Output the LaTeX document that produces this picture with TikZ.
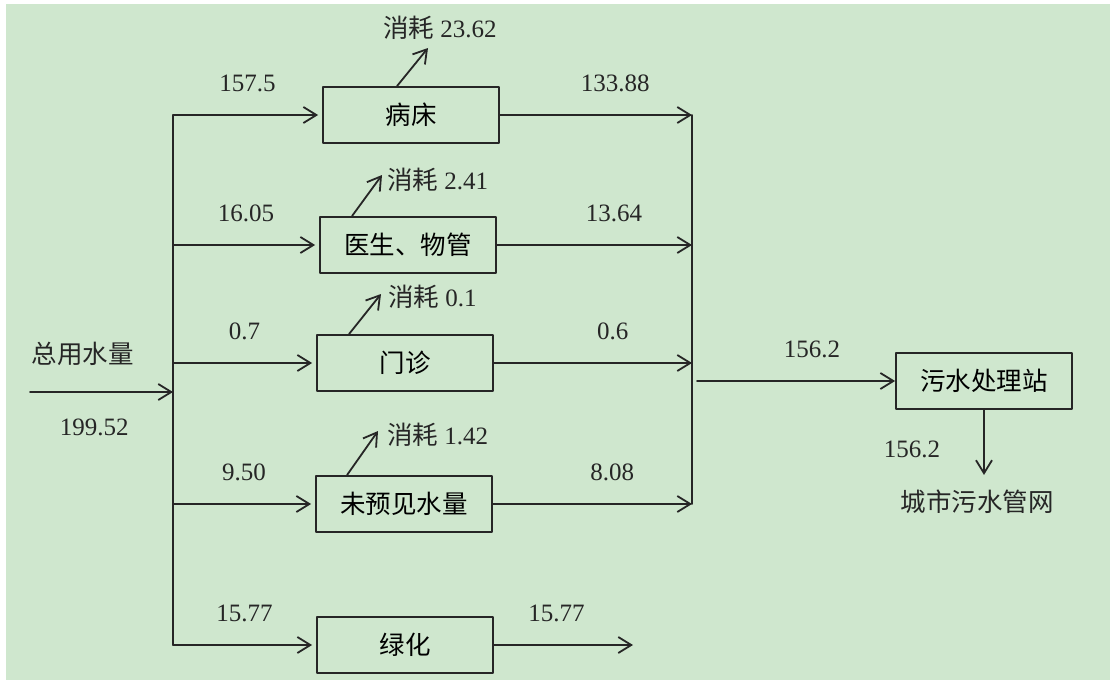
\documentclass[tikz,border=0pt]{standalone}
\usepackage{fontspec}
\setmainfont{Liberation Serif}
\newfontfamily\cjk{Noto Sans CJK SC}
\usetikzlibrary{arrows.meta}
\definecolor{bggreen}{RGB}{207,231,206}
\definecolor{ink}{RGB}{38,38,38}
\newcommand\hao[1]{{\cjk\fontsize{25.5}{28}\selectfont 消耗} #1}
\tikzset{
  unit/.style={draw=ink, line width=1.8pt, minimum width=176pt, minimum height=56pt, inner sep=0pt, font=\cjk\fontsize{25.5}{28}\selectfont},
  num/.style={font=\fontsize{25}{27}\selectfont, inner sep=3pt, text=ink},
  cjklbl/.style={font=\cjk\fontsize{25.5}{28}\selectfont, inner sep=2pt, text=ink},
  flow/.style={draw=ink, line width=1.8pt, ->},
  pipe/.style={draw=ink, line width=1.8pt}
}
\begin{document}
\begin{tikzpicture}[x=1pt, y=-1pt, line cap=round, line join=round, >={Straight Barb[length=13pt,width=16pt,line width=1.8pt]}]
\useasboundingbox (0,0) rectangle (1110,682);
\fill[bggreen] (6,4) rectangle (1110,680);
% units
\node[unit] (bed) at (411,115) {病床};
\node[unit] (doc) at (408,245) {医生、物管};
\node[unit] (clinic) at (405,363) {门诊};
\node[unit] (unseen) at (404,504) {未预见水量};
\node[unit] (lawn) at (405,645) {绿化};
\node[unit] (plant) at (984,381) {污水处理站};
\node[cjklbl] (net) at (977,502) {城市污水管网};
\coordinate (in) at (30,392);
\coordinate (trunk) at (173,392);
\coordinate (col) at (692,113);
\coordinate (out) at (697,381);
\coordinate (drain) at (633,645);
% supply side
\draw[flow] (in) -- node[cjklbl, pos=0.37, above=23pt]{总用水量} node[num, pos=0.45, below=23pt]{199.52} (trunk);
\draw[pipe] (bed.west -| trunk) -- (lawn.west -| trunk);
\foreach \n/\v in {bed/157.5, doc/16.05, clinic/0.7, unseen/9.50, lawn/15.77}
  \draw[flow, shorten >=4pt] (\n.west -| trunk) -- node[num, above=19pt]{\v} (\n.west);
% losses
\node[num, anchor=west, inner sep=0pt] (c1) at (383,28) {\hao{23.62}};
\node[num, anchor=west, inner sep=0pt] (c2) at (387,180) {\hao{2.41}};
\node[num, anchor=west, inner sep=0pt] (c3) at (388,297) {\hao{0.1}};
\node[num, anchor=west, inner sep=0pt] (c4) at (387,435) {\hao{1.42}};
\coordinate (t1) at (428,48);
\coordinate (t2) at (382,175);
\coordinate (t3) at (381,294);
\coordinate (t4) at (378,431);
\draw[flow] ([xshift=-14pt]bed.north) -- (t1);
\draw[flow] ([xshift=-56pt]doc.north) -- (t2);
\draw[flow] ([xshift=-56pt]clinic.north) -- (t3);
\draw[flow] ([xshift=-57pt]unseen.north) -- (t4);
% drain side
\foreach \n/\v in {bed/133.88, doc/13.64, clinic/0.6, unseen/8.08}
  \draw[flow] (\n.east) -- node[num, pos=0.6, above=19pt]{\v} (\n.east -| col);
\draw[pipe] (bed.east -| col) -- (unseen.east -| col);
\draw[flow] (lawn.east) -- node[num, pos=0.45, above=19pt]{15.77} (drain);
\draw[flow] (out) -- node[num, pos=0.58, above=19pt]{156.2} (plant.west);
\draw[flow, shorten >=13pt] (plant.south) -- node[num, left=40pt]{156.2} (plant.south |- net.north);
\end{tikzpicture}
\end{document}
